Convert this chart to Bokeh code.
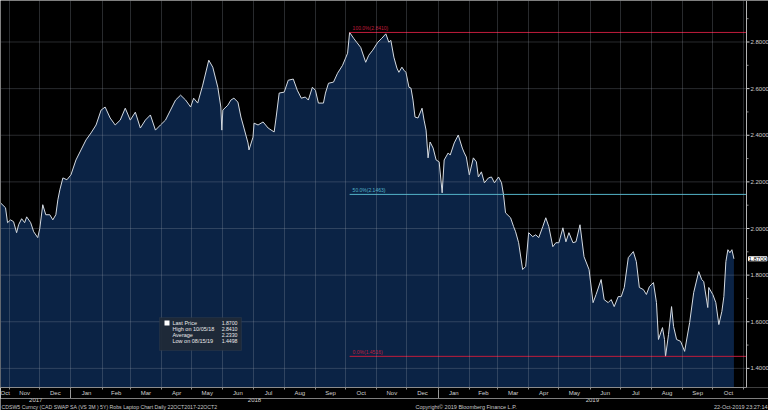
from datetime import datetime
from bokeh.plotting import figure
from bokeh.layouts import column
from bokeh.models import (Range1d, FixedTicker, DatetimeAxis, DatetimeTickFormatter, Label,
                          BoxAnnotation, ColumnDataSource, Span)
from bokeh.core.properties import value
from bokeh.embed import file_html
from bokeh.resources import INLINE

DATES = [
    "2017-10-23", "2017-10-28", "2017-10-30", "2017-11-02", "2017-11-05", "2017-11-08", "2017-11-10",
    "2017-11-13", "2017-11-16", "2017-11-18", "2017-11-22", "2017-11-25", "2017-11-29", "2017-12-01",
    "2017-12-04", "2017-12-07", "2017-12-11", "2017-12-14", "2017-12-17", "2017-12-19", "2017-12-21",
    "2017-12-24", "2017-12-28", "2018-01-01", "2018-01-06", "2018-01-11", "2018-01-16", "2018-01-21",
    "2018-01-26", "2018-01-31", "2018-02-04", "2018-02-09", "2018-02-14", "2018-02-19", "2018-02-24",
    "2018-03-01", "2018-03-06", "2018-03-11", "2018-03-16", "2018-03-21", "2018-03-26", "2018-03-31",
    "2018-04-05", "2018-04-10", "2018-04-15", "2018-04-20", "2018-04-25", "2018-04-30", "2018-05-03",
    "2018-05-07", "2018-05-12", "2018-05-18", "2018-05-22", "2018-05-27", "2018-05-30", "2018-05-31",
    "2018-06-01", "2018-06-06", "2018-06-09", "2018-06-12", "2018-06-16", "2018-06-19", "2018-06-22",
    "2018-06-26", "2018-06-27", "2018-07-01", "2018-07-02", "2018-07-06", "2018-07-11", "2018-07-16",
    "2018-07-22", "2018-07-24", "2018-07-27", "2018-08-01", "2018-08-05", "2018-08-10", "2018-08-14",
    "2018-08-18", "2018-08-22", "2018-08-25", "2018-08-29", "2018-09-01", "2018-09-04", "2018-09-09",
    "2018-09-11", "2018-09-14", "2018-09-19", "2018-09-23", "2018-09-28", "2018-10-03", "2018-10-05",
    "2018-10-09", "2018-10-12", "2018-10-16", "2018-10-21", "2018-10-24", "2018-10-28", "2018-11-02",
    "2018-11-06", "2018-11-10", "2018-11-13", "2018-11-15", "2018-11-18", "2018-11-21", "2018-11-23",
    "2018-11-26", "2018-11-28", "2018-11-30", "2018-12-03", "2018-12-05", "2018-12-07", "2018-12-09",
    "2018-12-12", "2018-12-16", "2018-12-18", "2018-12-20", "2018-12-22", "2018-12-24", "2018-12-27",
    "2018-12-30", "2019-01-02", "2019-01-05", "2019-01-07", "2019-01-11", "2019-01-13", "2019-01-17",
    "2019-01-21", "2019-01-25", "2019-01-27", "2019-01-29", "2019-02-01", "2019-02-05", "2019-02-08",
    "2019-02-10", "2019-02-13", "2019-02-16", "2019-02-20", "2019-02-23", "2019-02-26", "2019-03-02",
    "2019-03-05", "2019-03-07", "2019-03-09", "2019-03-14", "2019-03-17", "2019-03-19", "2019-03-22",
    "2019-03-26", "2019-03-29", "2019-04-01", "2019-04-05", "2019-04-08", "2019-04-11", "2019-04-15",
    "2019-04-18", "2019-04-21", "2019-04-25", "2019-04-28", "2019-05-01", "2019-05-05", "2019-05-08",
    "2019-05-11", "2019-05-15", "2019-05-18", "2019-05-22", "2019-05-26", "2019-05-31", "2019-06-04",
    "2019-06-07", "2019-06-12", "2019-06-15", "2019-06-19", "2019-06-22", "2019-06-25", "2019-06-29",
    "2019-07-02", "2019-07-05", "2019-07-09", "2019-07-14", "2019-07-17", "2019-07-20", "2019-07-24",
    "2019-07-27", "2019-07-30", "2019-08-03", "2019-08-06", "2019-08-08", "2019-08-12", "2019-08-14",
    "2019-08-15", "2019-08-18", "2019-08-21", "2019-08-23", "2019-08-26", "2019-08-30", "2019-09-03",
    "2019-09-08", "2019-09-12", "2019-09-17", "2019-09-20", "2019-09-22", "2019-09-26", "2019-09-27",
    "2019-10-01", "2019-10-04", "2019-10-07", "2019-10-10", "2019-10-12", "2019-10-14", "2019-10-16",
    "2019-10-18", "2019-10-20", "2019-10-22",
]
PRICES = [
    2.110, 2.089, 2.025, 2.037, 2.029, 1.982, 2.016,
    2.042, 2.025, 2.050, 2.025, 1.986, 1.961, 1.999,
    2.102, 2.059, 2.059, 2.037, 2.059, 2.123, 2.166,
    2.217, 2.209, 2.230, 2.294, 2.337, 2.380, 2.410,
    2.444, 2.508, 2.521, 2.474, 2.444, 2.465, 2.516,
    2.465, 2.499, 2.431, 2.465, 2.487, 2.422, 2.444,
    2.465, 2.508, 2.551, 2.572, 2.551, 2.521, 2.559,
    2.538, 2.615, 2.722, 2.692, 2.606, 2.521, 2.422,
    2.508, 2.529, 2.551, 2.559, 2.542, 2.478, 2.431,
    2.367, 2.337, 2.392, 2.452, 2.444, 2.457, 2.431,
    2.414, 2.478, 2.581, 2.585, 2.636, 2.641, 2.593,
    2.559, 2.564, 2.551, 2.606, 2.593, 2.538, 2.538,
    2.581, 2.623, 2.628, 2.666, 2.700, 2.752, 2.841,
    2.816, 2.799, 2.777, 2.713, 2.743, 2.765, 2.799,
    2.816, 2.835, 2.799, 2.807, 2.735, 2.688, 2.670,
    2.692, 2.679, 2.670, 2.606, 2.602, 2.551, 2.478,
    2.474, 2.516, 2.465, 2.422, 2.303, 2.371, 2.345,
    2.294, 2.286, 2.153, 2.294, 2.324, 2.315, 2.367,
    2.401, 2.345, 2.324, 2.307, 2.230, 2.303, 2.286,
    2.221, 2.243, 2.196, 2.217, 2.221, 2.196, 2.221,
    2.196, 2.144, 2.067, 2.046, 2.008, 1.986, 1.939,
    1.824, 1.837, 1.982, 1.965, 1.973, 1.961, 2.008,
    2.046, 2.008, 1.922, 1.939, 1.939, 2.003, 1.943,
    1.982, 1.939, 1.943, 2.016, 1.879, 1.824, 1.682,
    1.717, 1.781, 1.695, 1.682, 1.695, 1.665, 1.708,
    1.708, 1.747, 1.875, 1.901, 1.858, 1.747, 1.738,
    1.717, 1.751, 1.768, 1.682, 1.524, 1.575, 1.524,
    1.450, 1.546, 1.665, 1.580, 1.524, 1.516, 1.473,
    1.597, 1.725, 1.815, 1.781, 1.772, 1.661, 1.747,
    1.717, 1.682, 1.588, 1.644, 1.708, 1.858, 1.909,
    1.896, 1.909, 1.870,
]

MONTH_LABELS = ["Oct", "Nov", "Dec", "Jan", "Feb", "Mar", "Apr", "May", "Jun", "Jul", "Aug", "Sep",
                "Oct", "Nov", "Dec", "Jan", "Feb", "Mar", "Apr", "May", "Jun", "Jul", "Aug", "Sep", "Oct"]
YEAR_LABELS = ["2017", "2018", "2019"]
Y_TICKS = [1.4, 1.6, 1.8, 2.0, 2.2, 2.4, 2.6, 2.8]
Y_TICK_LABELS = ["1.4000", "1.6000", "1.8000", "2.0000", "2.2000", "2.4000", "2.6000", "2.8000"]
Y_MINOR = [1.5, 1.7, 1.9, 2.1, 2.3, 2.5, 2.7, 2.9]

FIB_START = "2018-10-05"
FIB_LEVELS = [2.8410, 2.1463, 1.4516]
FIB_LABELS = ["100.0%(2.8410)", "50.0%(2.1463)", "0.0%(1.4516)"]
FIB_COLORS = ["#c01c3c", "#53b3c9", "#c01c3c"]

LAST_PRICE = 1.87
LAST_PRICE_TEXT = "1.8700"
LEGEND_NAMES = ["Last Price", "High on 10/05/18", "Average", "Low on 08/15/19"]
LEGEND_VALUES = ["1.8700", "2.8410", "2.2330", "1.4498"]

FOOTER_LEFT = "CDSW5 Curncy (CAD SWAP SA (VS 3M ) 5Y) Robs Laptop Chart  Daily 22OCT2017-22OCT2"
FOOTER_MID = "Copyright\u00a9 2019 Bloomberg Finance L.P."
FOOTER_RIGHT = "22-Oct-2019 23:27:14"

X_START = datetime(2017, 10, 23)
X_END = datetime(2019, 11, 3, 12)          # right edge of the price panel (axis line)
X_RIGHT = X_START + (X_END - X_START) * (768 / 746)   # canvas edge incl. axis label strip
Y_START, Y_END = 1.318, 2.978

FONT = "Liberation Sans"
TXT = "#d0d0d0"
GRID = "#a0a8b4"
GRID_ALPHA = 0.25


def ms(d):
    return (d - datetime(1970, 1, 1)).total_seconds() * 1000.0


dates = [datetime.strptime(d, "%Y-%m-%d") for d in DATES]
src = ColumnDataSource(dict(date=dates, price=PRICES))

month_starts = []
yy, mm = 2017, 11
while datetime(yy, mm, 1) < X_END:
    month_starts.append(datetime(yy, mm, 1))
    mm += 1
    if mm > 12:
        mm, yy = 1, yy + 1
bounds = [X_START] + month_starts + [X_END]
month_mid = [ms(bounds[i]) + (ms(bounds[i + 1]) - ms(bounds[i])) / 2 for i in range(len(MONTH_LABELS))]
month_start_ms = [ms(d) for d in month_starts]

jan1 = [datetime(2018, 1, 1), datetime(2019, 1, 1)]
ybounds = [X_START] + jan1 + [X_END]
year_mid = [ybounds[i] + (ybounds[i + 1] - ybounds[i]) / 2 for i in range(3)]

xr = Range1d(X_START, X_RIGHT)

p = figure(width=768, height=398, x_axis_type="datetime", y_axis_location=None,
           x_range=xr, y_range=Range1d(Y_START, Y_END),
           output_backend="svg", toolbar_location=None, title=None,
           min_border_left=0, min_border_top=0, min_border_right=0, min_border_bottom=10,
           background_fill_color="black", border_fill_color="black", outline_line_color=None)

p.varea(x="date", y1=0, y2="price", source=src, fill_color="#0b2345")

# horizontal grid lines (stop at the price axis)
p.segment(x0=[X_START] * len(Y_TICKS), x1=[X_END] * len(Y_TICKS), y0=Y_TICKS, y1=Y_TICKS,
          line_color=GRID, line_alpha=GRID_ALPHA, line_width=1)

p.line(x="date", y="price", source=src, line_color="#d5dbe2", line_width=1)

# fib lines
fib_start = datetime.strptime(FIB_START, "%Y-%m-%d")
p.segment(x0=[fib_start] * 3, y0=FIB_LEVELS, x1=[X_END] * 3, y1=FIB_LEVELS,
          line_color=FIB_COLORS, line_width=1)
p.text(x=[fib_start] * 3, y=FIB_LEVELS, text=FIB_LABELS, text_color=FIB_COLORS,
       text_font=value(FONT), text_font_size="5px", text_baseline="bottom",
       x_offset=3, y_offset=-1)

# vertical grid
p.xgrid.ticker = FixedTicker(ticks=month_start_ms)
p.xgrid.grid_line_color = GRID
p.xgrid.grid_line_alpha = GRID_ALPHA
p.xgrid.level = "guide"
for g in p.ygrid:
    g.visible = False

# price axis on the right
p.add_layout(Span(location=ms(X_END), dimension="height", line_color="#b4b4b4", line_width=1))
p.ray(x=[X_END] * len(Y_TICKS), y=Y_TICKS, length=3, length_units="screen", angle=0,
      line_color="#d0d0d0", line_width=1)
p.ray(x=[X_END] * len(Y_MINOR), y=Y_MINOR, length=2, length_units="screen", angle=0,
      line_color="#8a8a8a", line_width=1)
p.text(x=[X_END] * len(Y_TICKS), y=Y_TICKS, text=Y_TICK_LABELS, x_offset=4,
       text_baseline="middle", text_font=value(FONT), text_font_size="6px", text_color=TXT)
p.add_layout(Label(x=ms(X_END), y=LAST_PRICE, x_offset=2, text=LAST_PRICE_TEXT,
                   text_font=FONT, text_font_size="6px", text_color="black", text_baseline="middle",
                   background_fill_color="white", border_line_color="white"))

fmt_b = DatetimeTickFormatter(microseconds="%b", milliseconds="%b", seconds="%b", minsec="%b",
                              minutes="%b", hourmin="%b", hours="%b", days="%b", months="%b", years="%b")

xa = p.xaxis[0]
xa.ticker = FixedTicker(ticks=month_mid, minor_ticks=month_start_ms)
xa.formatter = fmt_b
xa.major_label_overrides = {t: lab for t, lab in zip(month_mid, MONTH_LABELS)}
xa.bounds = (X_START, X_END)
xa.axis_line_color = "#8c8c8c"
xa.major_tick_out = 0
xa.major_tick_in = 0
xa.minor_tick_out = 2
xa.minor_tick_in = 0
xa.minor_tick_line_color = "#8c8c8c"
xa.major_label_standoff = 0
xa.major_label_text_font = FONT
xa.major_label_text_font_size = "6px"
xa.major_label_text_color = TXT

# year separators
sep = DatetimeAxis(ticker=FixedTicker(ticks=[], minor_ticks=[ms(d) for d in jan1]), formatter=fmt_b)
sep.axis_line_color = None
sep.major_tick_out = 0
sep.major_tick_in = 0
sep.minor_tick_in = 9
sep.minor_tick_out = 0
sep.minor_tick_line_color = "#9a9a9a"
sep.major_label_standoff = 0
sep.major_label_text_font_size = "1px"
p.add_layout(sep, "below")

# legend box
p.add_layout(BoxAnnotation(left=159, right=241, top=70, bottom=37,
                           left_units="screen", right_units="screen", top_units="screen",
                           bottom_units="screen", fill_color="#202a38", fill_alpha=0.95,
                           line_color="#3c4656", line_width=1))
p.add_layout(BoxAnnotation(left=164, right=169, top=67, bottom=62,
                           left_units="screen", right_units="screen", top_units="screen",
                           bottom_units="screen", fill_color="white", fill_alpha=1,
                           line_color=None))
rows_y = [65, 59, 53, 47]
for name, val, ry in zip(LEGEND_NAMES, LEGEND_VALUES, rows_y):
    p.add_layout(Label(x=172, y=ry, x_units="screen", y_units="screen", text=name,
                       text_font=FONT, text_font_size="5.5px", text_color="#e8e8e8",
                       text_baseline="middle"))
    p.add_layout(Label(x=237, y=ry, x_units="screen", y_units="screen", text=val,
                       text_font=FONT, text_font_size="5.2px", text_color="#e8e8e8",
                       text_baseline="middle", text_align="right"))

# footer strip: year labels and source line
f = figure(width=768, height=12, x_axis_type="datetime", x_range=xr, y_range=Range1d(0, 12),
           x_axis_location=None, y_axis_location=None, output_backend="svg",
           toolbar_location=None, title=None, min_border=0,
           background_fill_color="black", border_fill_color="black", outline_line_color=None)
f.grid.visible = False
f.text(x=year_mid, y=[10.5] * 3, text=YEAR_LABELS, text_align="center", text_baseline="middle",
       text_font=value(FONT), text_font_size="6px", text_color=TXT)
for txt, fx, align, fs in [(FOOTER_LEFT, 1, "left", "5.2px"), (FOOTER_MID, 415, "left", "5.5px"),
                           (FOOTER_RIGHT, 767, "right", "5.5px")]:
    f.add_layout(Label(x=fx, y=3.5, x_units="screen", y_units="screen", text=txt,
                       text_font=FONT, text_font_size=fs, text_color="#c8c8c8",
                       text_baseline="middle", text_align=align))

layout = column(p, f, spacing=0)
open("out.html", "w").write(file_html(layout, INLINE))
